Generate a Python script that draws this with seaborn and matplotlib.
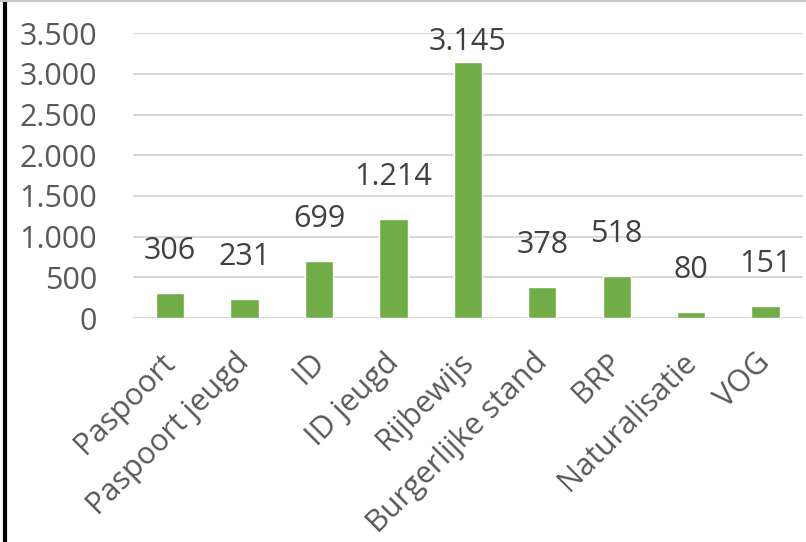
import matplotlib
matplotlib.use('Agg')
import matplotlib.pyplot as plt
import matplotlib.transforms as mtransforms
import pandas as pd
import seaborn as sns
from matplotlib.lines import Line2D

categories = ['Paspoort', 'Paspoort jeugd', 'ID', 'ID jeugd', 'Rijbewijs',
              'Burgerlijke stand', 'BRP', 'Naturalisatie', 'VOG']
values = [306, 231, 699, 1214, 3145, 378, 518, 80, 151]
yticks = [0, 500, 1000, 1500, 2000, 2500, 3000, 3500]

df = pd.DataFrame({'cat': categories, 'val': values})

sns.set_style('white')
plt.rcParams['font.family'] = ['Open Sans', 'DejaVu Sans']

fig = plt.figure(figsize=(8.06, 5.42), dpi=100)
ax = fig.add_axes([0.165, 0.413, 0.831, 0.526])

sns.barplot(data=df, x='cat', y='val', color='#70ad47', width=0.38,
            saturation=1, ax=ax, zorder=3)

ax.set_ylim(0, 3500)
ax.set_yticks(yticks)
ax.set_yticklabels(['{:,}'.format(v).replace(',', '.') for v in yticks])
ax.yaxis.grid(True, color='#d9d9d9', linewidth=1.5, zorder=0)
ax.set_axisbelow(True)
for s in ax.spines.values():
    s.set_visible(False)
ax.set_xlabel('')
ax.set_ylabel('')
ax.tick_params(axis='y', length=0, pad=26, labelsize=22, labelcolor='#595959')
ax.tick_params(axis='x', length=0, pad=21, labelsize=22, labelcolor='#595959')
shift = mtransforms.ScaledTranslation(-10 / 100, 0, fig.dpi_scale_trans)
for lab in ax.get_xticklabels():
    lab.set_rotation(45)
    lab.set_ha('right')
    lab.set_rotation_mode('anchor')
    lab.set_transform(lab.get_transform() + shift)

# value labels above bars, kept inside the plot at the top
for i, v in enumerate(values):
    txt = '{:,}'.format(v).replace(',', '.')
    y = min(v + 330, 3500 - 300)
    ax.text(i, y, txt, ha='center', va='bottom', fontsize=22, color='#404040')

# frame lines of the original screenshot
fig.add_artist(Line2D([0.006, 0.006], [0, 1], color='black', linewidth=3))
fig.add_artist(Line2D([0, 1], [0.999, 0.999], color='#c8c8c8', linewidth=1.5))

fig.savefig('out.png', dpi=100)
